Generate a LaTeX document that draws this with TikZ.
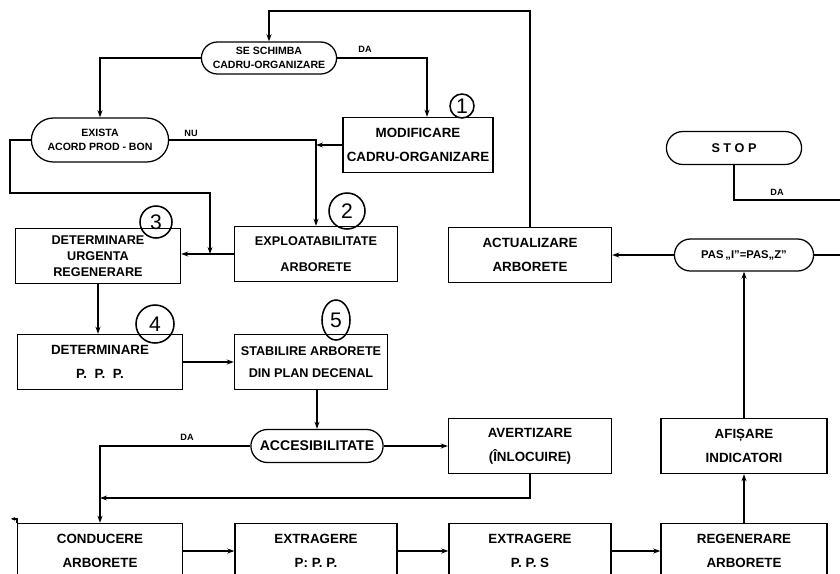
\documentclass[tikz,border=0pt]{standalone}
\usepackage{fontspec}
\setmainfont{Liberation Sans}
\usetikzlibrary{arrows.meta,shapes.misc,shapes.geometric}
\newlength\pxu
\setlength\pxu{0.025cm}
\tikzset{
  lnk/.style={line width=0.9pt},
  arr/.style={lnk,-{Stealth[length=5pt,width=3.5pt]}},
  blk/.style={draw,line width=0.9pt,minimum height=55\pxu,align=center,inner sep=1pt,
    font=\bfseries\fontsize{9.5}{17}\selectfont},
  term/.style={draw,rounded rectangle,line width=0.9pt,align=center,inner sep=1pt,
    font=\bfseries\fontsize{7.5}{9.5}\selectfont},
  lbl/.style={font=\bfseries\fontsize{6.5}{7}\selectfont},
  num/.style={draw,circle,line width=1.1pt,inner sep=0pt,font=\fontsize{15}{15}\selectfont}
}
\begin{document}
\begin{tikzpicture}[x=\pxu,y=-\pxu]
\useasboundingbox (0,0) rectangle (840,573);
\clip (0,0) rectangle (840,573);
% upper part
\node[term,minimum width=138\pxu,minimum height=32\pxu] (sch) at (269,58) {SE SCHIMBA\\CADRU-ORGANIZARE};
\node[blk,minimum width=150\pxu] (mod) at (418,145) {MODIFICARE\\CADRU-ORGANIZARE};
\node[term,minimum width=140\pxu,minimum height=44\pxu] (exista) at (100,140) {EXISTA\\ACORD PROD - BON};
\node[blk,minimum width=165\pxu,font=\bfseries\fontsize{9}{11.5}\selectfont] (urg) at (98,256) {DETERMINARE\\URGENTA\\REGENERARE};
\node[blk,minimum width=163\pxu,font=\bfseries\fontsize{9}{18}\selectfont] (exp) at (316,254) {EXPLOATABILITATE\\ARBORETE};
\node[blk,minimum width=163\pxu] (act) at (530,255) {ACTUALIZARE\\ARBORETE};
\node[term,minimum width=138\pxu,minimum height=33\pxu,font=\bfseries\fontsize{9}{10}\selectfont] (stop) at (734,148) {S T O P};
\node[term,minimum width=142\pxu,minimum height=32\pxu,font=\bfseries\fontsize{8}{10}\selectfont] (pas) at (744,255) {PAS\,„I”=PAS„Z”};
% middle part
\node[blk,minimum width=165\pxu] (ppp) at (100,362) {DETERMINARE\\P.\ \ P.\ \ P.};
\node[blk,minimum width=153\pxu,font=\bfseries\fontsize{9}{15.5}\selectfont] (stab) at (311,362) {STABILIRE ARBORETE\\DIN PLAN DECENAL};
\node[term,minimum width=135\pxu,minimum height=33\pxu,font=\bfseries\fontsize{10}{11}\selectfont] (acc) at (317,446) {ACCESIBILITATE};
\node[blk,minimum width=163\pxu] (avert) at (530,446) {AVERTIZARE\\(ÎNLOCUIRE)};
\node[blk,minimum width=166\pxu] (afis) at (744,446) {AFIȘARE\\INDICATORI};
% bottom row
\node[blk,minimum width=165\pxu] (cond) at (100,551) {CONDUCERE\\ARBORETE};
\node[blk,minimum width=162\pxu] (extp) at (316,551) {EXTRAGERE\\P:\ P.\ P.};
\node[blk,minimum width=162\pxu] (exts) at (530,551) {EXTRAGERE\\P.\ P.\ S};
\node[blk,minimum width=166\pxu] (regen) at (744,551) {REGENERARE\\ARBORETE};
% circled step numbers
\node[num,minimum size=24\pxu] (n1) at (462,106) {1};
\node[num,minimum size=36\pxu] (n2) at (347,211) {2};
\node[num,minimum size=32\pxu] (n3) at (156,222) {3};
\node[num,minimum size=38\pxu] (n4) at (155,324) {4};
\node[num,ellipse,minimum width=28\pxu,minimum height=40\pxu] (n5) at (336,320) {5};
% connectors
\coordinate (ttop) at (400,11);
\draw[arr] (act.north) |- (ttop) -| (sch.north);
\draw[arr] (sch.west) -| (exista.north);
\draw[arr] (sch.east) -| (427,0 |- mod.north);
\node[lbl] (da1) at (365,49) {DA};
\draw[arr] (exista.east) -| (exp.north);
\node[lbl] (nu1) at (191,133) {NU};
\draw[arr] (mod.west) -- (exp.north |- mod.west);
\coordinate (c1) at (10,193);
\draw[arr] (exista.west) -| (c1) -| (210,0 |- exp.west);
\draw[arr] (exp.west) -- (urg.east |- exp.west);
\draw[arr] (urg.south) -- (urg.south |- ppp.north);
\draw[arr] (ppp.east) -- (stab.west);
\draw[arr] (acc.north |- stab.south) -- (acc.north);
\draw[arr] (acc.west) -| (cond.north);
\node[lbl] (da2) at (187,437) {DA};
\draw[arr] (acc.east) -- (avert.west);
\coordinate (jcond) at (100,498);
\draw[arr] (avert.south) |- (jcond);
\draw[arr] (cond.east) -- (extp.west);
\draw[arr] (extp.east) -- (exts.west);
\draw[arr] (exts.east) -- (regen.west);
\draw[arr] (regen.north) -- (afis.south);
\draw[arr] (afis.north) -- (pas.south);
\draw[arr] (pas.west) -- (act.east);
\coordinate (rpas) at (840,255);
\draw[lnk] (pas.east) -- (rpas);
\coordinate (rstop) at (840,200);
\draw[lnk] (stop.south) |- (rstop);
\node[lbl] (da3) at (777,192) {DA};
\draw[lnk,-{Stealth[length=3pt,width=2.5pt]}] (cond.north west) -- ++(0,-4) -- ++(-6,0);
\end{tikzpicture}
\end{document}
